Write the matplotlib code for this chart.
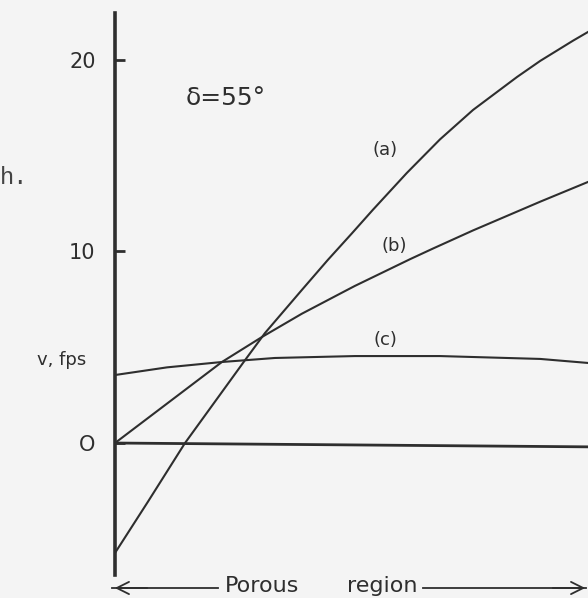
import numpy as np
import matplotlib.pyplot as plt

# distance across the porous region (fraction of width) and velocity, fps
x_a = [0.0, 0.070, 0.148, 0.275, 0.317, 0.395, 0.450, 0.501, 0.545, 0.617,
       0.687, 0.757, 0.850, 0.899, 0.968, 1.0]
v_a = [-5.74, -3.05, 0.0, 4.33, 5.74, 7.99, 9.56, 10.95, 12.17, 14.10,
       15.85, 17.39, 19.11, 19.95, 21.0, 21.46]

x_b = [0.0, 0.226, 0.311, 0.395, 0.476, 0.507, 0.624, 0.672, 0.757, 0.899, 1.0]
v_b = [0.0, 4.23, 5.54, 6.75, 7.8, 8.2, 9.6, 10.15, 11.1, 12.6, 13.63]

x_c = [0.0, 0.11, 0.226, 0.338, 0.507, 0.687, 0.899, 1.0]
v_c = [3.55, 3.95, 4.23, 4.44, 4.54, 4.54, 4.39, 4.18]

x_zero = [0.0, 0.507, 1.0]
v_zero = [0.0, -0.1, -0.2]

yticks = [0, 10, 20]
ink = "#2e2e2e"
paper = "#f4f4f4"

W, H = 588, 598
fig = plt.figure(figsize=(W / 100, H / 100), dpi=100, facecolor=paper)

# axes: left spine at x=115px, runs from y=13px down to y=575px
ax = fig.add_axes([115 / W, 1 - 575 / H, (W - 115) / W, (575 - 13) / H])
ax.set_facecolor(paper)
ax.set_xlim(0, 1)
ax.set_ylim(-6.89, 22.45)

for xs, vs in [(x_a, v_a), (x_b, v_b), (x_c, v_c)]:
    ax.plot(xs, vs, color=ink, lw=1.5, solid_joinstyle="round")
ax.plot(x_zero, v_zero, color=ink, lw=2.0)

for s in ["top", "right", "bottom"]:
    ax.spines[s].set_visible(False)
ax.spines["left"].set_linewidth(2.6)
ax.spines["left"].set_color(ink)
ax.set_xticks([])
ax.set_yticks(yticks)
ax.set_yticklabels([str(t) if t else "O" for t in yticks])
ax.tick_params(axis="y", direction="in", length=7, width=2, color=ink,
               labelsize=15, labelcolor=ink, pad=14)

font = "DejaVu Sans"
ax.text(0.235, 18.0, "δ=55°", fontsize=18, color=ink, family=font,
        ha="center", va="center")
ax.text(0.571, 15.3, "(a)", fontsize=13, color=ink, family=font, ha="center", va="center")
ax.text(0.59, 10.3, "(b)", fontsize=13, color=ink, family=font, ha="center", va="center")
ax.text(0.571, 5.4, "(c)", fontsize=13, color=ink, family=font, ha="center", va="center")

fig.text(62 / W, 1 - 360 / H, "v, fps", fontsize=13, color=ink, family=font,
         ha="center", va="center")
fig.text(28 / W, 1 - 178 / H, "h.", fontsize=17, color="#444444",
         family=["Liberation Mono", "DejaVu Sans Mono"], ha="right", va="center")

# porous region arrows along the bottom
yb = 1 - 588 / H
ytxt = 1 - 592 / H
fig.text(262 / W, ytxt, "Porous", fontsize=16, color=ink, family=font,
         ha="center", va="baseline")
fig.text(382 / W, ytxt, "region", fontsize=16, color=ink, family=font,
         ha="center", va="baseline")
fig.add_artist(plt.Line2D([112 / W, 218 / W], [yb, yb], color=ink, lw=1.3))
fig.add_artist(plt.Line2D([423 / W, 586 / W], [yb, yb], color=ink, lw=1.3))
arrow = dict(arrowstyle="->", color=ink, lw=1.3, mutation_scale=22)
ax_ann = fig.add_axes([0, 0, 1, 1], facecolor="none")
ax_ann.set_axis_off()
ax_ann.set_xlim(0, 1)
ax_ann.set_ylim(0, 1)
ax_ann.annotate("", xy=(112 / W, yb), xytext=(150 / W, yb), arrowprops=arrow)
ax_ann.annotate("", xy=(588 / W, yb), xytext=(550 / W, yb), arrowprops=arrow)

fig.savefig("out.png", dpi=100, facecolor=paper)
